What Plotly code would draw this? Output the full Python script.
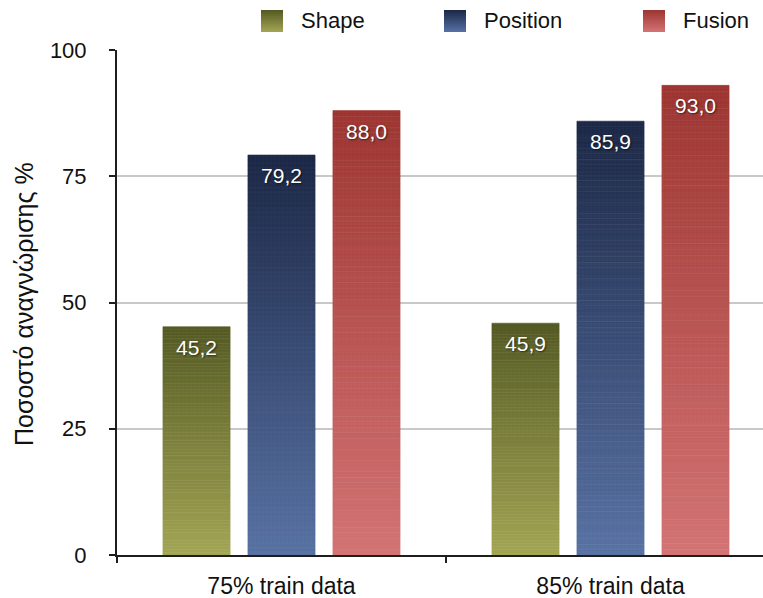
import plotly.graph_objects as go

# ---- data -------------------------------------------------------------
categories = ["75% train data", "85% train data"]
series_names = ["Shape", "Position", "Fusion"]
shape_vals = [45.2, 45.9]
position_vals = [79.2, 85.9]
fusion_vals = [88.0, 93.0]
y_ticks = [0, 25, 50, 75, 100]
y_title = "Ποσοστό αναγνώρισης %"

series_values = {"Shape": shape_vals, "Position": position_vals, "Fusion": fusion_vals}

# ---- styling ----------------------------------------------------------
# (top colour, bottom colour) of every series' vertical gradient
gradients = {
    "Shape": ("#535922", "#a4a654"),
    "Position": ("#1b2745", "#5771a3"),
    "Fusion": ("#9c3430", "#d47474"),
}
FONT = "Helvetica, Liberation Sans, Arial, sans-serif"
N_STEPS = 80  # slices used to paint each bar's gradient
BARGAP = 0.225

W, H = 763, 598
M_L, M_R, M_T, M_B = 117, 0, 50, 43


def hex_to_rgb(h):
    h = h.lstrip("#")
    return tuple(int(h[i:i + 2], 16) for i in (0, 2, 4))


def mix(c_bottom, c_top, t):
    a, b = hex_to_rgb(c_bottom), hex_to_rgb(c_top)
    r = [round(a[i] + (b[i] - a[i]) * t) for i in range(3)]
    return "rgb({},{},{})".format(*r)


def fmt(v):
    return f"{v:.1f}".replace(".", ",")


fig = go.Figure()

# gradient bodies: each bar is split into thin stacked slices along its height
for name in series_names:
    top, bottom = gradients[name]
    xs, bases, heights, colors = [], [], [], []
    for cat, v in zip(categories, series_values[name]):
        for k in range(N_STEPS):
            xs.append(cat)
            bases.append(v * k / N_STEPS)
            heights.append(v / N_STEPS)
            colors.append(mix(bottom, top, (k + 0.5) / N_STEPS))
    fig.add_trace(go.Bar(
        name=name, x=xs, y=heights, base=bases, offsetgroup=name,
        marker=dict(color=colors, line=dict(color=colors, width=0.6),
                    pattern=dict(shape="+", size=4, solidity=0.12,
                                 fgcolor="black", fgopacity=0.07)),
        showlegend=False, hoverinfo="skip",
    ))

# value labels hanging just below the top of each bar
for name in series_names:
    vals = series_values[name]
    fig.add_trace(go.Scatter(
        name=name, x=categories, y=vals, offsetgroup=name,
        mode="markers+text", marker=dict(size=18, opacity=0),
        text=[fmt(v) for v in vals], textposition="bottom center",
        textfont=dict(family=FONT, size=21, color="white",
                      shadow="1px 1px 2px rgba(0,0,0,0.6)"),
        showlegend=False, hovertemplate="%{x}<br>" + name + ": %{text}<extra></extra>",
    ))

# ---- legend drawn along the top edge -------------------------------------
pw, ph = W - M_L - M_R, H - M_T - M_B


def px_x(x):
    return (x - M_L) / pw


def px_y(y):
    return (H - M_B - y) / ph


legend_x = {"Shape": 261, "Position": 444, "Fusion": 643}
sw, sy0, sy1 = 22, 10, 32
shapes, annotations = [], []
for name in series_names:
    top, bottom = gradients[name]
    x0 = legend_x[name]
    n = 11
    for k in range(n):
        ya = sy1 - (sy1 - sy0) * k / n
        yb = sy1 - (sy1 - sy0) * (k + 1) / n
        shapes.append(dict(type="rect", xref="paper", yref="paper",
                           x0=px_x(x0), x1=px_x(x0 + sw), y0=px_y(ya), y1=px_y(yb),
                           fillcolor=mix(bottom, top, (k + 0.5) / n),
                           line=dict(width=0), layer="above"))
    annotations.append(dict(xref="paper", yref="paper", x=px_x(x0 + 38), y=px_y(21),
                            xanchor="left", yanchor="middle", text=name, showarrow=False,
                            font=dict(family=FONT, size=22, color="#111")))

annotations.append(dict(xref="paper", yref="paper", x=px_x(24), y=px_y(304),
                        xanchor="center", yanchor="middle", text=y_title, textangle=-90,
                        showarrow=False, font=dict(family=FONT, size=25, color="#111")))

fig.update_layout(
    width=W, height=H,
    margin=dict(l=M_L, r=M_R, t=M_T, b=M_B, pad=0),
    paper_bgcolor="white", plot_bgcolor="white",
    barmode="group", bargap=BARGAP, bargroupgap=0.21,
    scattermode="group", scattergap=BARGAP,
    showlegend=False,
    shapes=shapes, annotations=annotations,
    font=dict(family=FONT, color="#111"),
)
fig.update_xaxes(
    type="category", categoryorder="array", categoryarray=categories,
    range=[-0.5, 1.4635], showline=True, linecolor="#1e1e1e", linewidth=2,
    ticks="outside", tickson="boundaries", ticklen=6, tickwidth=2, tickcolor="#1e1e1e",
    showgrid=False, tickfont=dict(family=FONT, size=23, color="#111"),
    ticklabelstandoff=9, fixedrange=True,
)
fig.update_yaxes(
    range=[0, 100], tickvals=y_ticks, ticktext=[str(t) for t in y_ticks],
    showline=True, linecolor="#1e1e1e", linewidth=2,
    ticks="outside", ticklen=6, tickwidth=2, tickcolor="#1e1e1e",
    showgrid=True, gridcolor="#c8c8c8", gridwidth=1.5, zeroline=False,
    tickfont=dict(family=FONT, size=22, color="#111"),
    ticklabelstandoff=18, fixedrange=True,
)

fig.write_html("out.html")
